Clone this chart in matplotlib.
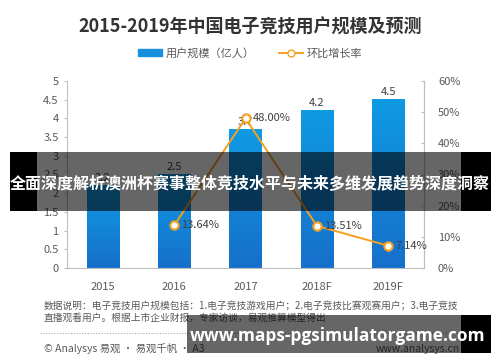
import matplotlib
matplotlib.use("Agg")
import matplotlib.pyplot as plt
import numpy as np
from matplotlib.colors import LinearSegmentedColormap
from matplotlib.patches import Rectangle
from matplotlib.lines import Line2D

plt.rcParams['font.family'] = ['Noto Sans CJK SC', 'DejaVu Sans']

categories = ['2015', '2016', '2017', '2018F', '2019F']
users = [2.2, 2.5, 3.7, 4.2, 4.5]
growth = [None, 13.64, 48.00, 13.51, 7.14]
left_ticks = [0, 0.5, 1, 1.5, 2, 2.5, 3, 3.5, 4, 4.5, 5]
right_ticks = [0, 10, 20, 30, 40, 50, 60]

title = '2015-2019年中国电子竞技用户规模及预测'
legend_bar = '用户规模（亿人）'
legend_line = '环比增长率'
note1 = '数据说明：电子竞技用户规模包括：1.电子竞技游戏用户；2.电子竞技比赛观赛用户；3.电子竞技'
note2 = '直播观看用户。根据上市企业财报，专家访谈，易观推算模型得出'
footer_left = '© Analysys 易观 · 易观千帆 · A3'
footer_right = 'www.analysys.cn'
overlay_text = '全面深度解析澳洲杯赛事整体竞技水平与未来多维发展趋势深度洞察'
overlay_url = 'www.maps-pgsimulatorgame.com'

W, H = 500, 362
fig = plt.figure(figsize=(W/100, H/100), dpi=100)
fig.patch.set_facecolor('white')
ax = fig.add_axes([67/W, 1-268/H, (424-67)/W, (268-81)/H])

x = np.arange(len(categories))
gray = '#595959'
axcol = '#bfbfbf'
orange = '#f5a01f'

bars = ax.bar(x, users, width=0.45, color='none', zorder=2)
cmap = LinearSegmentedColormap.from_list('g', ['#1670cb', '#0f9ae2'])
grad = np.linspace(0, 1, 100).reshape(-1, 1)
for b in bars:
    bx, bw, bh = b.get_x(), b.get_width(), b.get_height()
    ax.imshow(grad, extent=[bx, bx+bw, 0, bh], origin='lower', aspect='auto',
              cmap=cmap, zorder=2)
for xi, v in zip(x, users):
    ax.text(xi, v + 0.08, f'{v}', ha='center', va='bottom', fontsize=8, color='#404040', zorder=3)

ax.set_xlim(-0.5, len(categories) - 0.5)
ax.set_ylim(0, 5)
ax.set_yticks(left_ticks)
ax.set_yticklabels([f'{t:g}' for t in left_ticks])
ax.set_xticks(x)
ax.set_xticklabels(categories)
ax.tick_params(axis='y', colors=gray, labelsize=8, length=2, color=axcol, pad=4)
ax.tick_params(axis='x', colors=gray, labelsize=8, length=0, pad=10)
for s in ['top']:
    ax.spines[s].set_visible(False)
for s in ['left', 'bottom', 'right']:
    ax.spines[s].set_color(axcol)

ax2 = ax.twinx()
ax2.set_ylim(0, 60)
ax2.set_yticks(right_ticks)
ax2.set_yticklabels([f'{t}%' for t in right_ticks])
ax2.tick_params(axis='y', colors=gray, labelsize=8, length=2, color=axcol, direction='in', pad=10)
for s in ['top', 'left', 'bottom']:
    ax2.spines[s].set_visible(False)
ax2.spines['right'].set_color(axcol)
gx = [xi for xi, g in zip(x, growth) if g is not None]
gy = [g for g in growth if g is not None]
ax2.plot(gx, gy, color=orange, lw=1.4, marker='o', ms=6, mfc='white', mec=orange, mew=1.5, zorder=4)
for xi, g in zip(gx, gy):
    ax2.text(xi + 0.1, g, f'{g:.2f}%', ha='left', va='center', fontsize=8, color='#404040', zorder=5)

fig.text(0.5, 1-27/H, title, ha='center', va='center', fontsize=13, fontweight='bold', color='#333333')

h1 = Rectangle((0, 0), 1, 1, color='#1790dc')
h2 = Line2D([], [], color=orange, lw=1.4, marker='o', ms=5, mfc='white', mec=orange)
fig.legend([h1, h2], [legend_bar, legend_line], loc='center', bbox_to_anchor=(0.5, 1-53/H),
           ncol=2, frameon=False, fontsize=8, handlelength=2.2, handleheight=0.6,
           columnspacing=2.2, handletextpad=0.3, labelcolor=gray)

fig.text(44/W, 1-306/H, note1, ha='left', va='center', fontsize=7, color=gray)
fig.text(44/W, 1-318/H, note2, ha='left', va='center', fontsize=7, color=gray)
fig.add_artist(Line2D([40/W, 460/W], [1-333/H, 1-333/H], transform=fig.transFigure,
                      color='#aaaaaa', lw=0.8, ls=(0, (1, 1.5))))
fig.text(44/W, 1-349/H, footer_left, ha='left', va='center', fontsize=7.5, color=gray)
fig.text(460/W, 1-349/H, footer_right, ha='right', va='center', fontsize=7.5, color=gray)

# overlay banners
def rect(x0, y0, x1, y1, color, alpha):
    fig.add_artist(Rectangle((x0/W, 1-y1/H), (x1-x0)/W, (y1-y0)/H, transform=fig.transFigure,
                             facecolor=color, alpha=alpha, edgecolor='none', zorder=10))

rect(10, 152, 37, 211, 'black', 1.0)
rect(37, 152, 461, 211, 'black', 0.6)
rect(461, 152, 491, 211, 'black', 1.0)
fig.text(250/W, 1-184/H, overlay_text, ha='center', va='center', fontsize=11.5,
         fontweight='bold', color='white', zorder=11)

rect(187, 315, 461, 353, 'black', 0.6)
rect(461, 315, 491, 353, 'black', 1.0)
fig.text(338/W, 1-336/H, overlay_url, ha='center', va='center', fontsize=12.5,
         fontweight='bold', color='white', zorder=11, family=['Open Sans', 'DejaVu Sans'])

fig.savefig('out.png', dpi=100)
